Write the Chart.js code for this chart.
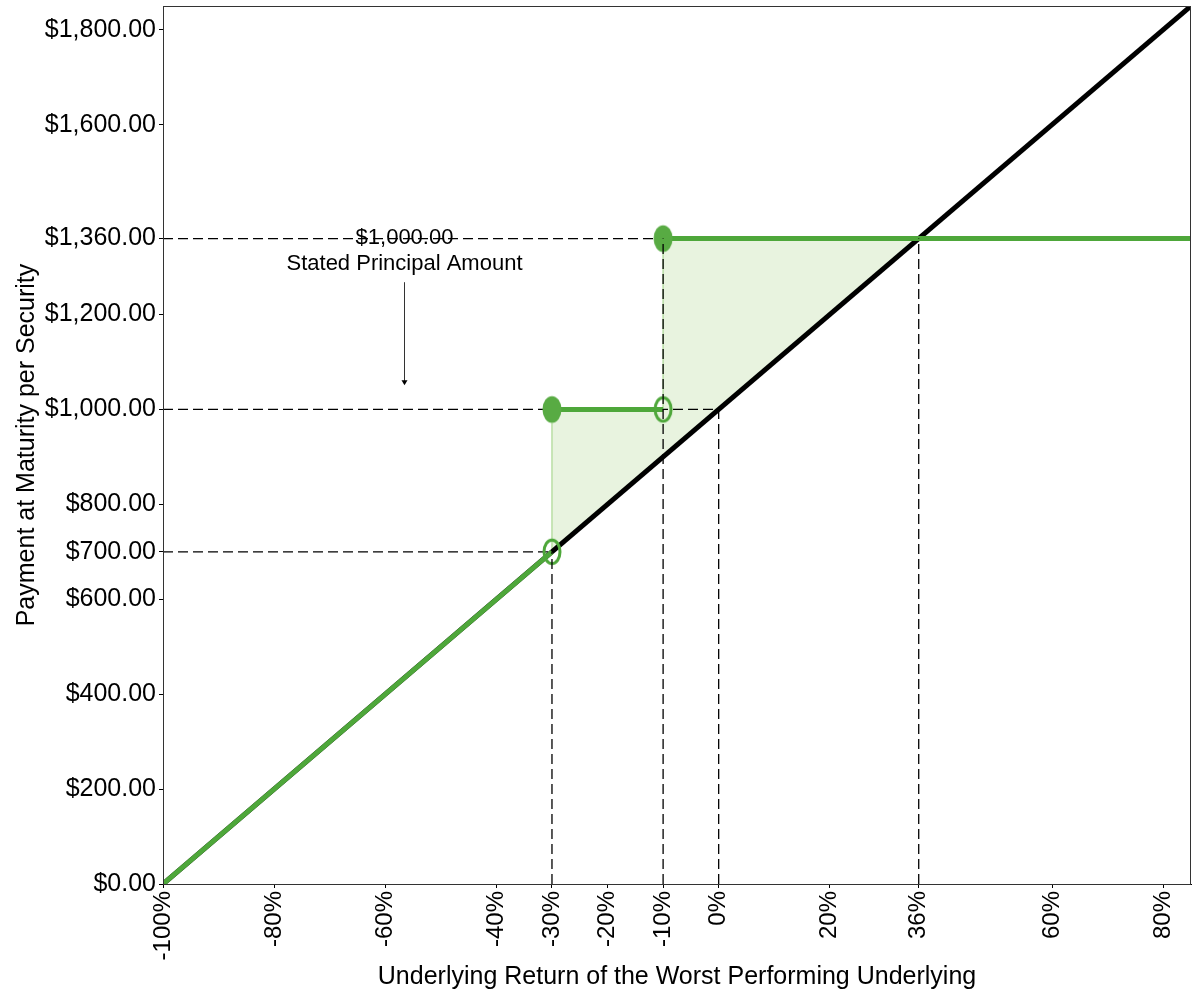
<html lang="en">
<head>
    <meta charset="utf-8">
    <title>Payment at Maturity</title>
    <style>
        body { margin: 0; background: #fff; }
        canvas { display: block; }
    </style>
</head>
<body>
<canvas id="myChart" width="1200" height="1000"></canvas>
<script src="https://cdn.jsdelivr.net/npm/chart.js"></script>
<script>
// axis ticks
var xTicks = [-100, -80, -60, -40, -30, -20, -10, 0, 20, 36, 60, 80];
var yTicks = [0, 200, 400, 600, 700, 800, 1000, 1200, 1360, 1600, 1800];

// underlying (black) line
var underX = [-100, 85];
var underY = [0, 1850];

// security payoff pieces (green)
var lowX = [-100, -30], lowY = [0, 700];
var midX = [-30, -10], midY = [1000, 1000];
var highX = [-10, 85], highY = [1360, 1360];

// shaded region top edge (filled down to the black line)
var shadeX = [-30, -30, -10, -10, 36];
var shadeY = [700, 1000, 1000, 1360, 1360];

// markers
var solidX = [-30, -10], solidY = [1000, 1360];
var hollowX = [-30, -10], hollowY = [700, 1000];

// dashed reference lines
var hRefY = [1360, 1000, 700], hRefEnd = [36, 0, -30];
var vRefX = [-30, -10, 0, 36], vRefTop = [700, 1360, 1000, 1360];

// annotation
var noteX = -56.6;
var noteY1 = 1362, noteY2 = 1306, arrowTop = 1268, arrowEnd = 1051;

var GREEN = '#4ea73a';
var FONT = "'Liberation Sans', Arial, sans-serif";

function pts(xs, ys) {
    return xs.map(function (x, i) { return {x: x, y: ys[i]}; });
}

function markerImage(filled) {
    var c = document.createElement('canvas');
    c.width = 22; c.height = 30;
    var g = c.getContext('2d');
    g.beginPath();
    if (filled) {
        g.ellipse(11, 15, 9.5, 13.3, 0, 0, Math.PI * 2);
        g.fillStyle = '#58ab43';
        g.fill();
    } else {
        g.ellipse(11, 15, 8, 11.8, 0, 0, Math.PI * 2);
        g.lineWidth = 3;
        g.strokeStyle = '#4ea73a';
        g.stroke();
    }
    return c;
}

var datasets = [];

// 0: black underlying line
datasets.push({
    data: pts(underX, underY), showLine: true, borderColor: '#000', borderWidth: 5,
    pointRadius: 0, order: 3
});
// shaded area
datasets.push({
    data: pts(shadeX, shadeY), showLine: true, borderColor: '#b9dea5', borderWidth: 1.5,
    backgroundColor: 'rgba(226,240,215,0.8)', fill: 0,
    pointRadius: 0, order: 4
});
// green payoff
[[lowX, lowY], [midX, midY], [highX, highY]].forEach(function (p) {
    datasets.push({
        data: pts(p[0], p[1]), showLine: true, borderColor: GREEN, borderWidth: 5,
        pointRadius: 0, order: 2
    });
});
// markers
datasets.push({
    data: pts(solidX, solidY), showLine: false,
    pointStyle: markerImage(true), pointRadius: 10, order: 1
});
datasets.push({
    data: pts(hollowX, hollowY), showLine: false,
    pointStyle: markerImage(false), pointRadius: 10, order: 1
});
// horizontal dashed lines (over the shading, under the payoff)
hRefY.forEach(function (y, i) {
    datasets.push({
        data: [{x: -100, y: y}, {x: hRefEnd[i], y: y}], showLine: true,
        borderColor: '#000', borderWidth: 1.3, borderDash: [10, 5],
        pointRadius: 0, order: 3.5
    });
});
// vertical dashed lines (on top)
vRefX.forEach(function (x, i) {
    datasets.push({
        data: [{x: x, y: 0}, {x: x, y: vRefTop[i]}], showLine: true,
        borderColor: '#000', borderWidth: 1.3, borderDash: [10, 5],
        pointRadius: 0, order: 0
    });
});

var framePlugin = {
    id: 'frame',
    afterDatasetsDraw: function (chart) {
        var ctx = chart.ctx, a = chart.chartArea;
        var xs = chart.scales.x, ys = chart.scales.y;
        ctx.save();
        ctx.strokeStyle = '#333';
        ctx.lineWidth = 1;
        ctx.strokeRect(a.left + 0.5, a.top + 0.5, a.right - a.left - 1, a.bottom - a.top);

        // annotation
        var px = Math.round(xs.getPixelForValue(noteX)) + 0.5;
        ctx.fillStyle = '#000';
        ctx.textAlign = 'center';
        ctx.textBaseline = 'middle';
        ctx.font = '22px ' + FONT;
        ctx.fillText('$1,000.00', px, ys.getPixelForValue(noteY1));
        ctx.fillText('Stated Principal Amount', px, ys.getPixelForValue(noteY2));
        var t = ys.getPixelForValue(arrowTop), b = ys.getPixelForValue(arrowEnd);
        ctx.beginPath();
        ctx.moveTo(px, t);
        ctx.lineTo(px, b - 4);
        ctx.stroke();
        ctx.beginPath();
        ctx.moveTo(px - 3, b - 5);
        ctx.lineTo(px + 3, b - 5);
        ctx.lineTo(px, b);
        ctx.closePath();
        ctx.fill();
        ctx.restore();
    }
};

new Chart('myChart', {
    type: 'scatter',
    data: {datasets: datasets},
    plugins: [framePlugin],
    options: {
        responsive: false,
        animation: false,
        devicePixelRatio: 1,
        layout: {autoPadding: false, padding: {top: 6, right: 9, left: 0, bottom: 0}},
        plugins: {legend: {display: false}, tooltip: {enabled: false}},
        elements: {line: {tension: 0, borderCapStyle: 'butt'}},
        scales: {
            x: {
                type: 'linear', min: -100, max: 85,
                afterBuildTicks: function (s) { s.ticks = xTicks.map(function (v) { return {value: v}; }); },
                afterFit: function (s) { s.height = 116; s.paddingLeft = 0; s.paddingRight = 0; },
                grid: {drawOnChartArea: false, tickLength: 4, color: '#000'},
                border: {display: true, color: '#000'},
                ticks: {
                    autoSkip: false, minRotation: 90, maxRotation: 90, padding: 3,
                    color: '#000', font: {family: FONT, size: 24},
                    callback: function (v) { return v + '%'; }
                },
                title: {
                    display: true, text: 'Underlying Return of the Worst Performing Underlying',
                    color: '#000', font: {family: FONT, size: 25}, padding: {top: 0, bottom: 8}
                }
            },
            y: {
                type: 'linear', min: 0, max: 1850,
                afterBuildTicks: function (s) { s.ticks = yTicks.map(function (v) { return {value: v}; }); },
                afterFit: function (s) { s.width = 163; s.paddingTop = 0; s.paddingBottom = 0; },
                grid: {drawOnChartArea: false, tickLength: 4, color: '#000'},
                border: {display: true, color: '#000'},
                ticks: {
                    autoSkip: false, padding: 3,
                    color: '#000', font: {family: FONT, size: 25},
                    callback: function (v) {
                        return '$' + v.toLocaleString('en-US', {minimumFractionDigits: 2, maximumFractionDigits: 2});
                    }
                },
                title: {
                    display: true, text: 'Payment at Maturity per Security',
                    color: '#000', font: {family: FONT, size: 25}, padding: {top: 12, bottom: 0}
                }
            }
        }
    }
});
</script>
</body>
</html>
